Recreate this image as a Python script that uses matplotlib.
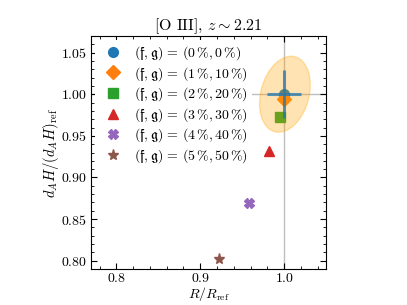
import matplotlib
matplotlib.use("Agg")
import matplotlib.pyplot as plt
from matplotlib.patches import Ellipse
from matplotlib.ticker import MultipleLocator

plt.rcParams["font.family"] = "serif"
plt.rcParams["font.serif"] = ["cmr10"]
plt.rcParams["mathtext.fontset"] = "cm"
plt.rcParams["axes.formatter.use_mathtext"] = True

# offsets (f, g) in percent and the resulting shifts
f_pct = [0, 1, 2, 3, 4, 5]
g_pct = [0, 10, 20, 30, 40, 50]
r_ratio = [1.000, 0.9995, 0.995, 0.982, 0.958, 0.923]
dah_ratio = [1.000, 0.994, 0.973, 0.932, 0.869, 0.8015]
markers = ["o", "D", "s", "^", "X", "*"]
colors = ["C0", "C1", "C2", "C3", "C4", "C5"]
msizes = [7, 7, 7, 7, 7, 8]

# forecast error of the reference point
err_r = 0.0205
err_dah = 0.029
ell_w, ell_h, ell_angle = 0.0575, 0.0933, -15

fig, ax = plt.subplots(figsize=(4.07, 3.05), dpi=100)
fig.subplots_adjust(left=0.224, right=0.801, top=0.882, bottom=0.118)

ax.axvline(1.0, color="gray", alpha=0.5, lw=1, zorder=0)
ax.axhline(1.0, color="gray", alpha=0.5, lw=1, zorder=0)

for i in range(len(f_pct)):
    lab = r"$(\mathfrak{f},\mathfrak{g})\,=\,(%d\,\%%, %d\,\%%)$" % (f_pct[i], g_pct[i])
    ax.plot(r_ratio[i], dah_ratio[i], marker=markers[i], color=colors[i],
            ms=msizes[i], ls="none", label=lab, zorder=2)

ell = Ellipse((1.001, 1.0), ell_w, ell_h, angle=ell_angle,
              facecolor="orange", edgecolor="orange", alpha=0.3, lw=1, zorder=3)
ax.add_patch(ell)
ax.errorbar(r_ratio[0], dah_ratio[0], xerr=err_r, yerr=err_dah, fmt="none",
            ecolor="C0", elinewidth=2.2, alpha=0.75, zorder=4)

ax.set_xlim(0.77, 1.05)
ax.set_ylim(0.79, 1.07)
ax.xaxis.set_major_locator(MultipleLocator(0.1))
ax.xaxis.set_minor_locator(MultipleLocator(0.02))
ax.yaxis.set_major_locator(MultipleLocator(0.05))
ax.yaxis.set_minor_locator(MultipleLocator(0.01))
ax.tick_params(which="both", direction="in", top=True, right=True, labelsize=10)
ax.tick_params(which="major", length=4, pad=3)
ax.tick_params(axis="x", which="major", pad=2.5)
ax.tick_params(which="minor", length=2)

ax.set_xlabel(r"$R/R_{\rm ref}$", fontsize=10, labelpad=0)
ax.set_ylabel(r"$d_AH/(d_AH)_{\rm ref}$", fontsize=10.5, labelpad=0)
ax.set_title(r"[O III], $z\sim2.21$", fontsize=11.5, pad=3)

ax.legend(loc="upper left", fontsize=10, frameon=True, edgecolor="none",
          framealpha=1, handletextpad=0.5, labelspacing=0.2, borderaxespad=0.3,
          borderpad=0.3)

fig.savefig("out.png", dpi=100)
